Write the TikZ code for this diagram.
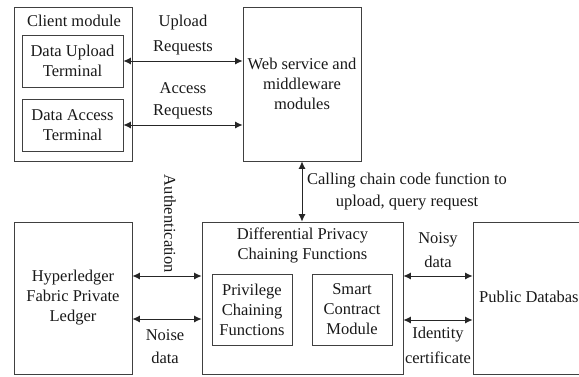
\documentclass[tikz,border=0pt]{standalone}
\usepackage{fontspec}
\setmainfont{Liberation Serif}
\usetikzlibrary{arrows.meta}
\begin{document}
\begin{tikzpicture}[x=1pt,y=-1pt,
  every node/.style={font=\fontsize{16.5}{20}\selectfont, text=black!90, inner sep=0pt},
  box/.style={draw=black!75, line width=0.8pt, align=center},
  lbl/.style={align=center},
  link/.style={draw=black!85, line width=0.9pt, {Latex[length=7.5pt,width=7pt]}-{Latex[length=7.5pt,width=7pt]}}]
\useasboundingbox (0,0) rectangle (579,376);
\clip (0,0) rectangle (579,376);
% top boxes
\node[box, minimum width=118pt, minimum height=154pt] (client) at (73,84) {};
\node[lbl] (clientlbl) at (74,21) {Client module};
\node[box, minimum width=101pt, minimum height=52pt] (upl) at (72.5,61) {Data Upload\\Terminal};
\node[box, minimum width=101pt, minimum height=52pt] (acc) at (72.5,125) {Data Access\\Terminal};
\node[box, minimum width=118pt, minimum height=154pt] (web) at (302,84) {Web service and\\middleware\\modules};
% bottom boxes
\node[box, minimum width=118pt, minimum height=152pt] (hyper) at (73,298) {Hyperledger\\Fabric Private\\Ledger};
\node[box, minimum width=201pt, minimum height=152pt] (dp) at (302.5,298) {};
\node[lbl] (dplbl) at (302.5,245) {Differential Privacy\\Chaining Functions};
\node[box, minimum width=80pt, minimum height=71pt] (priv) at (252,309.5) {Privilege\\Chaining\\Functions};
\node[box, minimum width=80pt, minimum height=71pt] (smart) at (352,309.5) {Smart\\Contract\\Module};
\node[box, minimum width=130pt, minimum height=152pt] (pub) at (538,298) {};
\node[lbl, anchor=west] (publbl) at (479,297) {Public Database};
% helper coordinates
\coordinate (ya) at (0,276);
\coordinate (yb) at (0,319);
\coordinate (yc) at (0,320);
% connectors
\draw[link] (upl.east) -- (web.west |- upl.east);
\draw[link] (acc.east) -- (web.west |- acc.east);
\draw[link] (web.south) -- (web.south |- dp.north);
\draw[link] (hyper.east |- ya) -- (dp.west |- ya);
\draw[link] (hyper.east |- yb) -- (dp.west |- yb);
\draw[link] (dp.east |- ya) -- (pub.west |- ya);
\draw[link] (dp.east |- yc) -- (pub.west |- yc);
% labels
\node[lbl] (up1) at (183,23) {Upload};
\node[lbl] (up2) at (183,48) {Requests};
\node[lbl] (ac1) at (183,88) {Access};
\node[lbl] (ac2) at (183,112) {Requests};
\node[lbl] (call1) at (407,180) {Calling chain code function to};
\node[lbl] (call2) at (407,203) {upload, query request};
\node[lbl, rotate=-90] (auth) at (170,224) {Authentication};
\node[lbl] (no1) at (165,335) {Noise};
\node[lbl] (no2) at (165,358) {data};
\node[lbl] (ny1) at (438,240) {Noisy};
\node[lbl] (ny2) at (438,262) {data};
\node[lbl] (id1) at (438,335) {Identity};
\node[lbl] (id2) at (438,358) {certificate};
\end{tikzpicture}
\end{document}
